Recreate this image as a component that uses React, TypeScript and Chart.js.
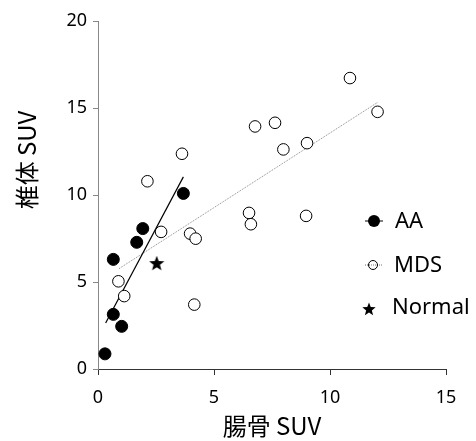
import React, { useEffect, useRef } from "react";
import { Chart, registerables } from "chart.js";

Chart.register(...registerables);

const aaX = [0.30, 0.66, 1.02, 0.66, 1.67, 1.93, 3.68];
const aaY = [0.87, 3.14, 2.45, 6.30, 7.28, 8.07, 10.09];

const mdsX = [0.88, 1.13, 2.72, 3.97, 4.21, 4.15, 6.51, 6.59, 2.13, 3.62, 6.77, 7.63, 7.99, 9.01, 10.86, 12.05, 8.97];
const mdsY = [5.04, 4.19, 7.88, 7.78, 7.49, 3.70, 8.97, 8.32, 10.79, 12.37, 13.94, 14.15, 12.62, 12.98, 16.72, 14.78, 8.80];

const normalX = [2.53];
const normalY = [6.09];

const aaFitX = [0.33, 3.68];
const aaFitY = [2.64, 11.04];
const mdsFitX = [0.91, 12.05];
const mdsFitY = [5.77, 15.32];

const xTicks = [0, 5, 10, 15];
const yTicks = [0, 5, 10, 15, 20];

const legendLabels = ["AA", "MDS", "Normal"];
const xTitle = "腸骨 SUV";
const yTitle = "椎体 SUV";

const pts = (xs: number[], ys: number[]) => xs.map((x, i) => ({ x, y: ys[i] }));

function starPath(ctx: CanvasRenderingContext2D, cx: number, cy: number, outer: number, inner: number) {
  ctx.beginPath();
  for (let i = 0; i < 10; i++) {
    const r = i % 2 === 0 ? outer : inner;
    const a = -Math.PI / 2 + (i * Math.PI) / 5;
    const px = cx + r * Math.cos(a);
    const py = cy + r * Math.sin(a);
    if (i === 0) ctx.moveTo(px, py);
    else ctx.lineTo(px, py);
  }
  ctx.closePath();
}

function makeStar(size: number) {
  const c = document.createElement("canvas");
  c.width = size;
  c.height = size;
  const ctx = c.getContext("2d")!;
  ctx.fillStyle = "#000";
  starPath(ctx, size / 2, size / 2 + size * 0.05, size / 2, (size / 2) * 0.42);
  ctx.fill();
  return c;
}

export default function App() {
  const ref = useRef<HTMLCanvasElement | null>(null);
  useEffect(() => {
    if (!ref.current) return;
    const star = makeStar(16);
    const overlay = {
      id: "overlay",
      afterDraw(chart: any) {
        const ctx = chart.ctx as CanvasRenderingContext2D;
        const a = chart.chartArea;
        ctx.save();
        ctx.fillStyle = "#000";
        ctx.font = '24px "Noto Sans CJK JP", "Noto Sans", sans-serif';
        ctx.textAlign = "center";
        ctx.textBaseline = "middle";
        ctx.fillText(xTitle, (a.left + a.right) / 2, a.bottom + 57);
        ctx.save();
        ctx.translate(27, a.top + 139);
        ctx.rotate(-Math.PI / 2);
        ctx.fillText(yTitle, 0, 0);
        ctx.restore();
        const lx = 374;
        const ys = [221, 265, 309];
        ctx.strokeStyle = "#000";
        ctx.lineWidth = 1;
        ctx.setLineDash([]);
        ctx.beginPath();
        ctx.moveTo(lx - 9, ys[0]);
        ctx.lineTo(lx + 9, ys[0]);
        ctx.stroke();
        ctx.beginPath();
        ctx.arc(lx, ys[0], 6, 0, Math.PI * 2);
        ctx.fillStyle = "#000";
        ctx.fill();
        ctx.strokeStyle = "#777";
        ctx.setLineDash([1, 1]);
        ctx.beginPath();
        ctx.moveTo(lx - 9, ys[1]);
        ctx.lineTo(lx + 9, ys[1]);
        ctx.stroke();
        ctx.setLineDash([]);
        ctx.beginPath();
        ctx.arc(lx - 1, ys[1], 4.5, 0, Math.PI * 2);
        ctx.strokeStyle = "#000";
        ctx.stroke();
        ctx.fillStyle = "#000";
        starPath(ctx, lx - 5, ys[2] + 0.5, 7, 3);
        ctx.fill();
        ctx.font = '22px "Noto Sans", sans-serif';
        ctx.textAlign = "left";
        ctx.textBaseline = "middle";
        ctx.fillText(legendLabels[0], 395, ys[0] + 1);
        ctx.fillText(legendLabels[1], 394, ys[1] + 1);
        ctx.fillText(legendLabels[2], 392, ys[2] - 1);
        ctx.restore();
      },
    };
    const chart = new Chart(ref.current, {
      type: "scatter",
      data: {
        datasets: [
          {
            label: "AA fit",
            data: pts(aaFitX, aaFitY),
            showLine: true,
            borderColor: "#000",
            borderWidth: 1.2,
            pointRadius: 0,
            order: 3,
          },
          {
            label: "MDS fit",
            data: pts(mdsFitX, mdsFitY),
            showLine: true,
            borderColor: "#888",
            borderWidth: 1,
            borderDash: [1, 1],
            pointRadius: 0,
            order: 3,
          },
          {
            label: legendLabels[1],
            data: pts(mdsX, mdsY),
            pointRadius: 5.8,
            backgroundColor: "#fff",
            borderColor: "#000",
            borderWidth: 1,
            order: 2,
          },
          {
            label: legendLabels[0],
            data: pts(aaX, aaY),
            pointRadius: 6,
            backgroundColor: "#000",
            borderColor: "#000",
            borderWidth: 1,
            order: 1,
          },
          {
            label: legendLabels[2],
            data: pts(normalX, normalY),
            pointStyle: star as any,
            pointRadius: 8,
            order: 1,
          },
        ],
      },
      options: {
        responsive: false,
        animation: false,
        layout: { padding: { top: 21, right: 30, left: 0, bottom: 0 } },
        plugins: { legend: { display: false }, tooltip: { enabled: false } },
        scales: {
          x: {
            type: "linear",
            min: 0,
            max: 15,
            afterBuildTicks: (s: any) => {
              s.ticks = xTicks.map((v) => ({ value: v }));
            },
            afterFit: (s: any) => {
              s.height = 72;
            },
            ticks: {
              color: "#000",
              font: { family: '"Noto Sans", sans-serif', size: 18 },
              padding: 12,
              maxRotation: 0,
            },
            grid: {
              drawOnChartArea: false,
              drawTicks: true,
              tickLength: 6,
              tickColor: "#333",
            },
            border: { color: "#333", width: 1 },
          },
          y: {
            type: "linear",
            min: 0,
            max: 20,
            afterBuildTicks: (s: any) => {
              s.ticks = yTicks.map((v) => ({ value: v }));
            },
            afterFit: (s: any) => {
              s.width = 98;
            },
            ticks: {
              color: "#000",
              font: { family: '"Noto Sans", sans-serif', size: 18 },
              padding: 6,
            },
            grid: {
              drawOnChartArea: false,
              drawTicks: true,
              tickLength: 5,
              tickColor: "#888",
            },
            border: { color: "#888", width: 1 },
          },
        },
      },
      plugins: [overlay],
    });
    return () => chart.destroy();
  }, []);
  return (
    <div style={{ position: "absolute", left: 0, top: 0, width: 476, height: 441, background: "#fff" }}>
      <canvas ref={ref} width={476} height={441} />
    </div>
  );
}
